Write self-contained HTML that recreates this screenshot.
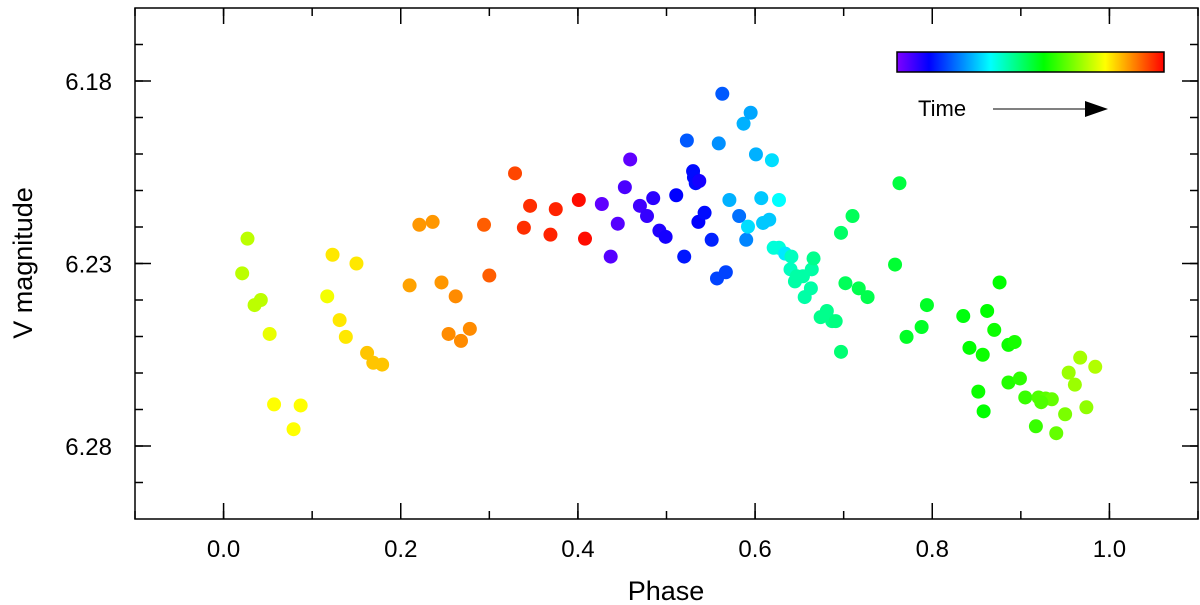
<!DOCTYPE html>
<html><head><meta charset="utf-8"><style>
body{margin:0;background:#fff;}
svg{display:block;font-family:"Liberation Sans",Arial,sans-serif;}
</style></head><body>
<svg id="chart" width="1200" height="605">
<defs><linearGradient id="rb" x1="0" x2="1" y1="0" y2="0">
<stop offset="0" stop-color="#7f00ff"/><stop offset="0.12" stop-color="#0000ff"/><stop offset="0.35" stop-color="#00ffff"/><stop offset="0.55" stop-color="#00ff00"/><stop offset="0.78" stop-color="#ffff00"/><stop offset="1" stop-color="#ff0000"/></linearGradient></defs>
<g id="marks"></g>
<rect x="135" y="8" width="1063" height="511" fill="none" stroke="#000" stroke-width="1.5"/>
<g id="axes"></g>
<text x="666" y="600" font-size="27" text-anchor="middle">Phase</text>
<text transform="translate(32,263) rotate(-90)" font-size="27" text-anchor="middle">V magnitude</text>
<rect x="897" y="52" width="267" height="20" fill="url(#rb)" stroke="#000" stroke-width="1.5"/>
<text x="918" y="116" font-size="22">Time</text>
<line x1="993" y1="109" x2="1088" y2="109" stroke="#000" stroke-width="1"/>
<polygon points="1085,101 1108,109 1085,117" fill="#000"/>
</svg>
<script>
const phase=[.021,.027,.035,.042,.052,.057,.079,.087,.117,.123,.131,.138,.150,.162,.169,.179,.210,.221,.236,.246,.254,.262,.268,.278,.294,.300,.329,.339,.346,.369,.375,.401,.408,.427,.437,.445,.459,.453,.470,.478,.485,.492,.499,.511,.520,.523,.530,.531,.533,.536,.537,.543,.551,.557,.559,.563,.567,.571,.582,.590,.587,.595,.592,.601,.609,.616,.619,.607,.627,.621,.627,.634,.641,.645,.640,.647,.656,.654,.663,.664,.666,.674,.681,.687,
.763,.710,.697,.758,.702,.717,.727,.794,.691,.788,.771,.697,.876,.835,.862,.870,.886,.893,.842,.857,.967,.984,.954,.961,.886,.899,.852,.858,.905,.920,.928,.935,.923,.974,.950,.917,.940];
const mag=[6.2327,6.2232,6.2414,6.2400,6.2493,6.2686,6.2754,6.2689,6.2390,6.2276,6.2455,6.2501,6.2300,6.2545,6.2572,6.2577,6.2360,6.2194,6.2186,6.2352,6.2493,6.2390,6.2512,6.2479,6.2194,6.2333,6.2053,6.2202,6.2142,6.2221,6.2151,6.2126,6.2232,6.2137,6.2281,6.2191,6.2015,6.2091,6.2142,6.2170,6.2121,6.2210,6.2227,6.2113,6.2281,6.1963,6.2047,6.2064,6.2080,6.2186,6.2074,6.2161,6.2235,6.2341,6.1971,6.1835,6.2324,6.2126,6.2170,6.2235,6.1917,6.1887,6.2199,6.2001,6.2189,6.2180,6.2017,6.2121,6.2126,6.2257,6.2257,6.2273,6.2281,6.2349,6.2316,6.2335,6.2392,6.2335,6.2368,6.2316,6.2286,6.2447,6.2430,6.2458,
6.2080,6.2170,6.2216,6.2303,6.2354,6.2368,6.2392,6.2414,6.2458,6.2474,6.2501,6.2542,6.2352,6.2444,6.2430,6.2482,6.2523,6.2515,6.2531,6.2550,6.2558,6.2583,6.2599,6.2632,6.2626,6.2615,6.2651,6.2705,6.2667,6.2667,6.2670,6.2672,6.2680,6.2694,6.2713,6.2746,6.2765];
const timeArr=[.72,.72,.72,.72,.76,.78,.78,.78,.77,.8,.8,.8,.8,.83,.83,.83,.86,.87,.87,.87,.88,.88,.88,.88,.92,.92,.94,.96,.96,.97,.97,.99,.99,.03,.04,.04,.03,.05,.06,.07,.08,.09,.1,.12,.14,.2,.13,.13,.13,.12,.1,.13,.15,.18,.25,.2,.18,.28,.22,.24,.28,.27,.32,.28,.3,.3,.32,.3,.35,.38,.38,.33,.4,.42,.4,.42,.42,.42,.42,.42,.44,.44,.44,.44,
.5,.48,.47,.51,.48,.49,.49,.52,.45,.52,.52,.46,.55,.54,.55,.56,.56,.57,.55,.56,.7,.71,.69,.69,.58,.59,.56,.55,.6,.62,.63,.64,.62,.68,.66,.6,.64];
const xTicks=[0.0,0.2,0.4,0.6,0.8,1.0];
const xTickLabels=["0.0","0.2","0.4","0.6","0.8","1.0"];
const yTicks=[6.18,6.23,6.28];
const yTickLabels=["6.18","6.23","6.28"];
const X=p=>135+(p+0.1)/1.2*1063;
const Y=m=>8+(m-6.16)/0.14*511;
const stops=[[0,[127,0,255]],[.12,[0,0,255]],[.35,[0,255,255]],[.55,[0,255,0]],[.78,[255,255,0]],[1,[255,0,0]]];
function col(t){for(let i=1;i<stops.length;i++){if(t<=stops[i][0]){const a=stops[i-1],b=stops[i],f=(t-a[0])/(b[0]-a[0]);return 'rgb('+a[1].map((v,k)=>Math.round(v+(b[1][k]-v)*f)).join(',')+')';}}return 'rgb(255,0,0)';}
const NS='http://www.w3.org/2000/svg';
const marks=document.getElementById('marks');
for(let i=0;i<phase.length;i++){
 const c=document.createElementNS(NS,'circle');
 c.setAttribute('cx',X(phase[i]));c.setAttribute('cy',Y(mag[i]));c.setAttribute('r',7);c.setAttribute('fill',col(timeArr[i]));
 
 
 marks.appendChild(c);
}
const axes=document.getElementById('axes');
function ln(x1,y1,x2,y2){const l=document.createElementNS(NS,'line');l.setAttribute('x1',x1);l.setAttribute('y1',y1);l.setAttribute('x2',x2);l.setAttribute('y2',y2);l.setAttribute('stroke','#000');l.setAttribute('stroke-width',1.5);
 
 
 axes.appendChild(l);}
function tx(x,y,s,anchor,name){const t=document.createElementNS(NS,'text');t.setAttribute('x',x);t.setAttribute('y',y);t.setAttribute('font-size',24);t.setAttribute('text-anchor',anchor);t.textContent=s;
 
 
 axes.appendChild(t);}
for(let v=-0.1;v<=1.101;v+=0.1){const x=X(v);ln(x,519,x,511);ln(x,8,x,16);}
xTicks.forEach((v,i)=>{const x=X(v);ln(x,519,x,503);ln(x,8,x,24);tx(x,557,xTickLabels[i],'middle','x-tick-label');});
for(let v=6.17;v<=6.2901;v+=0.01){const y=Y(v);ln(135,y,143,y);ln(1198,y,1190,y);}
yTicks.forEach((v,i)=>{const y=Y(v);ln(135,y,151,y);ln(1198,y,1182,y);tx(112,y+9,yTickLabels[i],'end','y-tick-label');});
</script>
</body></html>
